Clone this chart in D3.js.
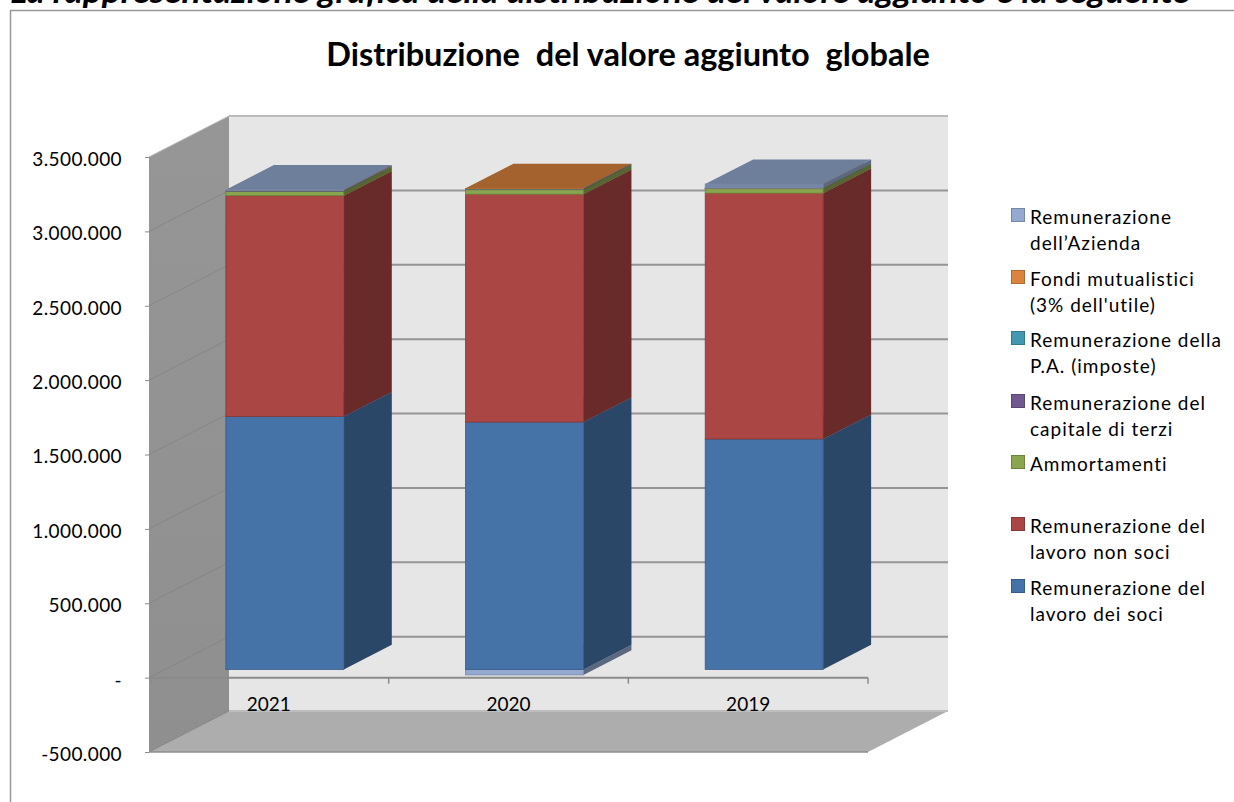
<!DOCTYPE html>
<html>
<head>
<meta charset="utf-8">
<script src="https://cdn.jsdelivr.net/npm/d3@7"></script>
<style>
body { margin: 0; background: #fff; }
text { font-family: Lato, "Open Sans", sans-serif; fill: #000; }
</style>
</head>
<body>
<svg id="chart" width="1234" height="802"></svg>
<script>
var years = ["2021", "2020", "2019"];
var yTicks = [-500000, 0, 500000, 1000000, 1500000, 2000000, 2500000, 3000000, 3500000];

// bottom to top, same order as the stack
var seriesNames = ["soci", "nonSoci", "ammortamenti", "terzi", "imposte", "fondi", "azienda"];
var seriesColors = ["#4572a7", "#aa4643", "#89a54e", "#71588f", "#4198af", "#db843d", "#93a9cf"];
var soci = [1700000, 1663000, 1549000];
var nonSoci = [1485000, 1532000, 1653000];
var ammortamenti = [30000, 30000, 30000];
var terzi = [1500, 2000, 1500];
var imposte = [1500, 3000, 1500];
var fondi = [1000, 4000, 1000];
var azienda = [6000, -37000, 27000];
var seriesValues = [soci, nonSoci, ammortamenti, terzi, imposte, fondi, azienda];

// legend runs top to bottom, so index into the series from the end
var legendLabels = [
    ["Remunerazione", "dell\u2019Azienda"],
    ["Fondi mutualistici", "(3% dell'utile)"],
    ["Remunerazione della", "P.A. (imposte)"],
    ["Remunerazione del", "capitale di terzi"],
    ["Ammortamenti"],
    ["Remunerazione del", "lavoro non soci"],
    ["Remunerazione del", "lavoro dei soci"]
];
var legendRows = [215, 277, 338, 401, 462, 524, 586];

var svg = d3.select("#chart");

var y = d3.scaleLinear().domain([-500000, 3500000]).range([752, 157]);
var x = d3.scaleBand().domain(years).range([149, 868]).paddingInner(0.508).paddingOuter(0.254);
var depthX = d3.scaleLinear().domain([0, 1]).range([0, 80]);
var depthY = d3.scaleLinear().domain([0, 1]).range([0, -41]);
var barFront = 0.2, barBack = 0.8;

// pixel position of a point given in pixels on the front plane + a depth
function pt(px, value, depth) {
    return [px + depthX(depth), y(value) + depthY(depth)];
}
function poly(points) {
    return points.map(function(p) { return p.join(","); }).join(" ");
}
function shade(color, k) {
    var c = d3.rgb(color);
    return d3.rgb(c.r * k, c.g * k, c.b * k).formatHex();
}

// page heading cut off by the chart frame
svg.append("text")
    .attr("x", 10)
    .attr("y", 3)
    .attr("font-size", 32)
    .attr("font-weight", 700)
    .attr("font-style", "italic")
    .attr("textLength", 1180)
    .attr("lengthAdjust", "spacingAndGlyphs")
    .text("La rappresentazione grafica della distribuzione del valore aggiunto \u00e8 la seguente");

svg.append("rect")
    .attr("x", 10.5)
    .attr("y", 10.5)
    .attr("width", 1240)
    .attr("height", 820)
    .attr("fill", "#fff")
    .attr("stroke", "#989898")
    .attr("stroke-width", 1.5);

svg.append("text")
    .attr("x", 628)
    .attr("y", 66)
    .attr("text-anchor", "middle")
    .attr("font-size", 32.5)
    .attr("font-weight", 700)
    .style("white-space", "pre")
    .text("Distribuzione  del valore aggiunto  globale");

// walls and floor
var xMin = x.range()[0], xMax = x.range()[1];
var yMin = y.domain()[0], yMax = y.domain()[1];

var wallGrad = svg.append("defs").append("linearGradient")
    .attr("id", "wallGrad")
    .attr("x1", 0).attr("x2", 0).attr("y1", 0).attr("y2", 1);
wallGrad.append("stop").attr("offset", 0).attr("stop-color", "#969696");
wallGrad.append("stop").attr("offset", 1).attr("stop-color", "#8f8f8f");

svg.append("polygon")
    .attr("points", poly([pt(xMin, yMax, 1), pt(xMax, yMax, 1), pt(xMax, yMin, 1), pt(xMin, yMin, 1)]))
    .attr("fill", "#e6e6e6");
svg.append("polygon")
    .attr("points", poly([pt(xMin, yMax, 0), pt(xMin, yMax, 1), pt(xMin, yMin, 1), pt(xMin, yMin, 0)]))
    .attr("fill", "url(#wallGrad)");
svg.append("polygon")
    .attr("points", poly([pt(xMin, yMin, 0), pt(xMax, yMin, 0), pt(xMax, yMin, 1), pt(xMin, yMin, 1)]))
    .attr("fill", "#adadad");

// gridlines: back wall then side wall
svg.selectAll(".grid-back")
    .data(yTicks)
    .enter().append("line")
    .attr("class", "grid-back")
    .attr("x1", pt(xMin, 0, 1)[0])
    .attr("x2", pt(xMax, 0, 1)[0])
    .attr("y1", function(d) { return pt(xMin, d, 1)[1]; })
    .attr("y2", function(d) { return pt(xMin, d, 1)[1]; })
    .attr("stroke", function(d) { return d === yMax || d === yMin ? "#bdbdbd" : "#959595"; })
    .attr("stroke-width", 2);

svg.selectAll(".grid-side")
    .data(yTicks)
    .enter().append("line")
    .attr("class", "grid-side")
    .attr("x1", function(d) { return pt(xMin, d, 0)[0]; })
    .attr("y1", function(d) { return pt(xMin, d, 0)[1]; })
    .attr("x2", function(d) { return pt(xMin, d, 1)[0]; })
    .attr("y2", function(d) { return pt(xMin, d, 1)[1]; })
    .attr("stroke", function(d) { return d === yMax ? "#b5b5b5" : "#858585"; })
    .attr("stroke-width", 1);

// floor front edge
svg.append("line")
    .attr("x1", xMin).attr("x2", xMax)
    .attr("y1", y(yMin)).attr("y2", y(yMin))
    .attr("stroke", "#8f8f8f")
    .attr("stroke-width", 1.5);

// zero line on the front plane, ticks between categories
svg.append("line")
    .attr("x1", xMin).attr("x2", xMax)
    .attr("y1", y(0)).attr("y2", y(0))
    .attr("stroke", "#8a8a8a")
    .attr("stroke-width", 2);

svg.selectAll(".cat-tick")
    .data(d3.range(years.length + 1))
    .enter().append("line")
    .attr("class", "cat-tick")
    .attr("x1", function(d) { return xMin + d * x.step() + (d === 0 ? 2 : 0); })
    .attr("x2", function(d) { return xMin + d * x.step() + (d === 0 ? 2 : 0); })
    .attr("y1", y(0))
    .attr("y2", y(0) + 6)
    .attr("stroke", "#8a8a8a")
    .attr("stroke-width", 1.5);

// bars
var stack = d3.stack()
    .keys(d3.range(seriesNames.length))
    .value(function(row, k) { return seriesValues[k][row]; })
    .offset(d3.stackOffsetDiverging);

var segments = [];
stack(d3.range(years.length)).forEach(function(layer, k) {
    layer.forEach(function(span, i) {
        segments.push({ k: k, year: years[i], v0: span[0], v1: span[1], negative: seriesValues[k][i] < 0 });
    });
});
// paint order: below zero first, then upward
segments.sort(function(a, b) { return a.v0 - b.v0; });

var seg = svg.selectAll(".seg")
    .data(segments)
    .enter().append("g")
    .attr("class", "seg");

seg.append("polygon")
    .attr("points", function(d) {
        var r = x(d.year) + x.bandwidth();
        return poly([pt(r, d.v1, barFront), pt(r, d.v1, barBack), pt(r, d.v0, barBack), pt(r, d.v0, barFront)]);
    })
    .attr("fill", function(d) { return shade(seriesColors[d.k], 0.62); });

seg.append("polygon")
    .attr("points", function(d) {
        var l = x(d.year), r = l + x.bandwidth();
        return poly([pt(l, d.v1, barFront), pt(l, d.v1, barBack), pt(r, d.v1, barBack), pt(r, d.v1, barFront)]);
    })
    .attr("fill", function(d) { return shade(seriesColors[d.k], 0.75); });

seg.append("rect")
    .attr("x", function(d) { return pt(x(d.year), 0, barFront)[0]; })
    .attr("y", function(d) { return pt(0, d.v1, barFront)[1]; })
    .attr("width", x.bandwidth())
    .attr("height", function(d) { return y(d.v0) - y(d.v1); })
    .attr("fill", function(d) {
        // the thin strip on top of the stack reads darker than the one below zero
        var topStrip = seriesNames[d.k] === "azienda" && !d.negative;
        return shade(seriesColors[d.k], topStrip ? 0.8 : 1);
    })
    .attr("stroke", function(d) { return shade(seriesColors[d.k], 0.8); })
    .attr("stroke-width", 0.8);

// axes
var yAxis = d3.axisLeft(y)
    .tickValues(yTicks)
    .tickSize(4)
    .tickPadding(23)
    .tickFormat(function(d) {
        if (d === 0) return "-";
        return (d < 0 ? "-" : "") + d3.format(",")(Math.abs(d)).replace(/,/g, ".");
    });
var yG = svg.append("g")
    .attr("transform", "translate(" + xMin + ",0)")
    .call(yAxis);
yG.select(".domain").remove();
yG.selectAll("line").attr("stroke", "#8a8a8a");
yG.selectAll("text")
    .attr("dy", "0.44em")
    .attr("font-size", 19)
    .attr("font-family", "Lato")
    .attr("letter-spacing", 0.4)
    .attr("fill", "#000");

var xAxis = d3.axisBottom(x).tickSize(0).tickPadding(20);
var xG = svg.append("g")
    .attr("transform", "translate(0," + y(0) + ")")
    .call(xAxis);
xG.select(".domain").remove();
xG.selectAll("text")
    .attr("font-size", 19)
    .attr("font-family", "Lato")
    .attr("fill", "#000");

// legend
var legend = svg.selectAll(".legend-item")
    .data(legendLabels)
    .enter().append("g")
    .attr("class", "legend-item")
    .attr("transform", function(d, i) { return "translate(1011," + legendRows[i] + ")"; });

legend.append("rect")
    .attr("x", 0.5)
    .attr("y", -6.5)
    .attr("width", 13)
    .attr("height", 13)
    .attr("fill", function(d, i) { return seriesColors[seriesColors.length - 1 - i]; })
    .attr("stroke", function(d, i) { return shade(seriesColors[seriesColors.length - 1 - i], 0.8); });

legend.selectAll("text")
    .data(function(d) { return d; })
    .enter().append("text")
    .attr("x", 19)
    .attr("y", function(d, i) { return 9 + i * 26; })
    .attr("font-size", 19)
    .attr("letter-spacing", 1)
    .text(function(d) { return d; });
</script>
</body>
</html>
